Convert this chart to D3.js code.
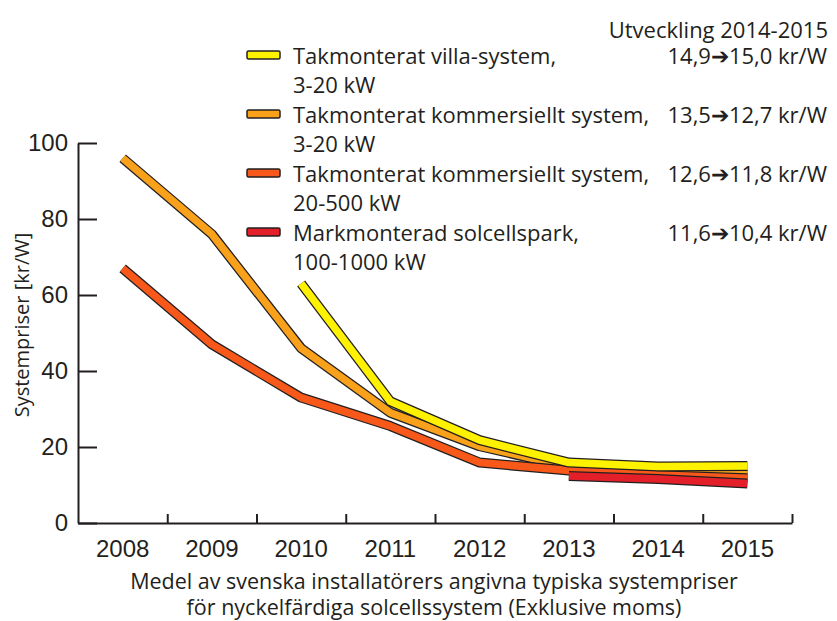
<!DOCTYPE html>
<html>
<head>
<meta charset="utf-8">
<script src="https://cdn.jsdelivr.net/npm/d3@7"></script>
<style>
  body { margin: 0; background: #fff; }
  svg { display: block; font-family: "Myriad Pro", "Open Sans", sans-serif; }
  text { fill: #231f20; }
</style>
</head>
<body>
<div id="chart-container"></div>
<script>
// values (kr/W)
const years = [2008, 2009, 2010, 2011, 2012, 2013, 2014, 2015];
const villa = [null, null, 63, 32, 21.8, 15.9, 14.9, 15.0];
const kommersiell = [96, 76, 46, 29, 20.2, 14.8, 13.5, 12.7];
const kommersiellStor = [67, 47, 33, 25.5, 15.9, 13.8, 12.6, 11.8];
const markpark = [null, null, null, null, null, 12.4, 11.6, 10.4];

const seriesNames = [
  ["Takmonterat villa-system,", "3-20 kW"],
  ["Takmonterat kommersiellt system,", "3-20 kW"],
  ["Takmonterat kommersiellt system,", "20-500 kW"],
  ["Markmonterad solcellspark,", "100-1000 kW"]
];
const changes = ["14,9\u279415,0 kr/W", "13,5\u279412,7 kr/W", "12,6\u279411,8 kr/W", "11,6\u279410,4 kr/W"];
const colors = ["#fff200", "#f9a11b", "#f8591b", "#e3202a"];
const yTicks = [0, 20, 40, 60, 80, 100];

const width = 837, height = 621;
const svg = d3.select("#chart-container").append("svg")
  .attr("width", width).attr("height", height);

const x = d3.scaleBand().domain(years).range([78, 792]);
const y = d3.scaleLinear().domain([0, 100]).range([523, 143]);

// y axis, ticks pointing into the plot
const yAxis = svg.append("g").attr("transform", "translate(78,0)")
  .call(d3.axisLeft(y).tickValues(yTicks).tickSize(-19).tickSizeOuter(0).tickPadding(10));
yAxis.select(".domain").attr("stroke", "#231f20").attr("stroke-width", 2);
yAxis.selectAll(".tick line").attr("stroke", "#231f20").attr("stroke-width", 2);
yAxis.selectAll(".tick text").attr("font-size", 24).attr("font-family", null);

// x axis: labels in the bands, ticks on the band borders
const xAxis = svg.append("g").attr("transform", "translate(0,523)")
  .call(d3.axisBottom(x).tickSize(0).tickPadding(17));
xAxis.select(".domain").attr("stroke", "#231f20").attr("stroke-width", 2);
xAxis.selectAll(".tick text").attr("font-size", 24).attr("font-family", null);

const borders = d3.scaleLinear().domain([0, years.length]).range(x.range());
const xTickMarks = svg.append("g").attr("transform", "translate(0,523)")
  .call(d3.axisBottom(borders).tickValues(d3.range(1, years.length + 1)).tickSize(-9).tickFormat(""));
xTickMarks.select(".domain").remove();
xTickMarks.selectAll(".tick line").attr("stroke", "#231f20").attr("stroke-width", 2);

svg.append("text").text("Systempriser [kr/W]")
  .attr("text-anchor", "middle")
  .attr("transform", "translate(29,325) rotate(-90)")
  .attr("font-size", 20);

svg.append("text").attr("text-anchor", "middle").attr("font-size", 21.5)
  .selectAll("tspan")
  .data(["Medel av svenska installatörers angivna typiska systempriser",
         "för nyckelfärdiga solcellssystem (Exklusive moms)"])
  .join("tspan")
  .attr("x", 434).attr("y", (d, i) => 589 + i * 26)
  .text(d => d);

// lines: thick coloured stroke with a dark outline
const allSeries = [villa, kommersiell, kommersiellStor, markpark];
const line = d3.line()
  .defined(d => d != null)
  .x((d, i) => x(years[i]) + x.bandwidth() / 2)
  .y(d => y(d));

const drawOrder = [1, 2, 3, 0];
drawOrder.forEach(k => {
  const g = svg.append("g");
  g.append("path").attr("d", line(allSeries[k]))
    .attr("fill", "none").attr("stroke", "#231f20").attr("stroke-width", 10)
    .attr("stroke-linejoin", "round");
  g.append("path").attr("d", line(allSeries[k]))
    .attr("fill", "none").attr("stroke", colors[k]).attr("stroke-width", 7.5)
    .attr("stroke-linejoin", "round");
});

// legend
svg.append("text").text("Utveckling 2014-2015")
  .attr("x", 828).attr("y", 38).attr("text-anchor", "end").attr("font-size", 22);

const legend = svg.append("g").selectAll("g").data(seriesNames).join("g")
  .attr("transform", (d, i) => `translate(0,${64 + i * 59})`);

legend.append("rect")
  .attr("x", 247).attr("y", -13).attr("width", 33).attr("height", 8).attr("rx", 1.5)
  .attr("fill", (d, i) => colors[i]).attr("stroke", "#231f20").attr("stroke-width", 1.5);

legend.append("text").attr("font-size", 22)
  .selectAll("tspan").data(d => d).join("tspan")
  .attr("x", 293).attr("y", (d, i) => i * 29)
  .text(d => d);

legend.append("text").attr("font-size", 22)
  .attr("x", 827).attr("text-anchor", "end")
  .text((d, i) => changes[i]);
</script>
</body>
</html>
